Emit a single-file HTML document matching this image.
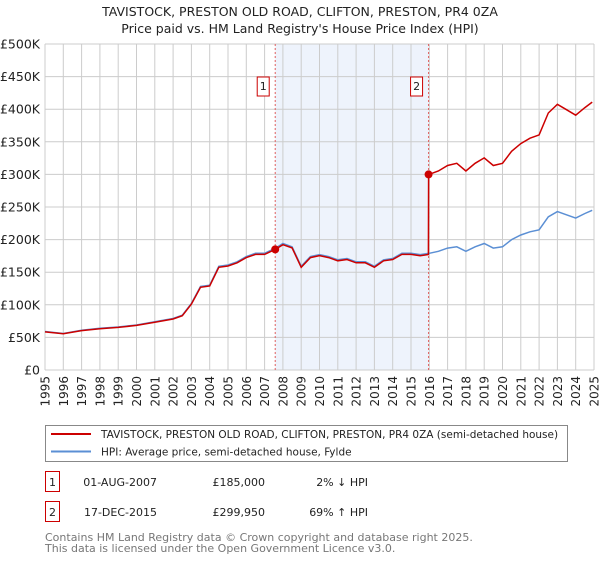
<!DOCTYPE html>
<html><head><meta charset="utf-8"><style>
body{margin:0;background:#fff;font-family:"Liberation Sans","DejaVu Sans",sans-serif;}
svg text{font-family:"DejaVu Sans","Liberation Sans",sans-serif;}
</style></head><body>
<svg id="c" width="600" height="560" xmlns="http://www.w3.org/2000/svg"></svg>
<script>
const hpiYears=[1995,1996,1997,1998,1999,2000,2001,2002,2002.5,2003,2003.5,2004,2004.5,2005,2005.5,2006,2006.5,2007,2007.6,2008,2008.5,2009,2009.5,2010,2010.5,2011,2011.5,2012,2012.5,2013,2013.5,2014,2014.5,2015,2015.5,2016,2016.5,2017,2017.5,2018,2018.5,2019,2019.5,2020,2020.5,2021,2021.5,2022,2022.5,2023,2023.5,2024,2024.5,2024.9];
const hpiValues=[59,56,61,64,66,69,74,79,84,102,128,130,159,161,166,174,179,179,187,194,189,159,174,177,174,169,171,166,166,159,169,171,179,179,177,179,182,187,189,182,189,194,187,189,200,207,212,215,235,243,238,233,240,245];
const saleYears=[2007.58,2015.96];
const salePrices=[185,299.95];
const saleLabels=["1","2"];
const yTicks=[0,50,100,150,200,250,300,350,400,450,500];
const yTickLabels=["£0","£50K","£100K","£150K","£200K","£250K","£300K","£350K","£400K","£450K","£500K"];
const xTicks=[1995,1996,1997,1998,1999,2000,2001,2002,2003,2004,2005,2006,2007,2008,2009,2010,2011,2012,2013,2014,2015,2016,2017,2018,2019,2020,2021,2022,2023,2024,2025];

const NS="http://www.w3.org/2000/svg";
const svg=document.getElementById('c');
const X0=45,X1=594,Y0=370,Y1=44;
const xs=y=>X0+(y-1995)/30*(X1-X0);
const ys=v=>Y0-v/500*(Y0-Y1);
function mk(tag,attrs,parent){const e=document.createElementNS(NS,tag);for(const k in attrs)e.setAttribute(k,attrs[k]);(parent||svg).appendChild(e);return e;}
function hpiAt(y){for(let i=0;i<hpiYears.length-1;i++){if(y<=hpiYears[i+1]){const t=(y-hpiYears[i])/(hpiYears[i+1]-hpiYears[i]);return hpiValues[i]+t*(hpiValues[i+1]-hpiValues[i]);}}return hpiValues[hpiValues.length-1];}

let t=mk('text',{x:300,y:16,'text-anchor':'middle','font-size':12.5,fill:'#222'});t.textContent="TAVISTOCK, PRESTON OLD ROAD, CLIFTON, PRESTON, PR4 0ZA";

t=mk('text',{x:300,y:33,'text-anchor':'middle','font-size':12.5,fill:'#222'});t.textContent="Price paid vs. HM Land Registry's House Price Index (HPI)";


let sh=mk('rect',{x:xs(saleYears[0]),y:Y1,width:xs(saleYears[1])-xs(saleYears[0]),height:Y0-Y1,fill:'#eef3fc'});


xTicks.forEach(yr=>{
 const g=mk('line',{x1:xs(yr),x2:xs(yr),y1:Y1,y2:Y0,stroke:'#cccccc','stroke-width':1});
 
 const l=mk('text',{transform:`translate(${xs(yr)+4.5},376) rotate(-90)`,'text-anchor':'end','font-size':12,fill:'#222'});
 l.textContent=yr;
 
});
yTicks.forEach((v,i)=>{
 const g=mk('line',{x1:X0,x2:X1,y1:ys(v),y2:ys(v),stroke:'#cccccc','stroke-width':1});
 
 const l=mk('text',{x:40,y:ys(v)+4.5,'text-anchor':'end','font-size':12.5,fill:'#222'});
 l.textContent=yTickLabels[i];
 
});

saleYears.forEach((sy,i)=>{
 const d=mk('line',{x1:xs(sy),x2:xs(sy),y1:Y1,y2:Y0,stroke:'#e06060','stroke-width':1,'stroke-dasharray':'2,2'});
 
 const b=mk('rect',{x:xs(sy)-18,y:77,width:12,height:19,fill:'#fff',stroke:'#cc0000','stroke-width':1});
 
 const l=mk('text',{x:xs(sy)-12,y:90,'text-anchor':'middle','font-size':11,fill:'#222'});l.textContent=saleLabels[i];
 
});

let hp=hpiYears.map((y,i)=>`${i?'L':'M'}${xs(y).toFixed(1)},${ys(hpiValues[i]).toFixed(1)}`).join('');
let hl=mk('path',{d:hp,fill:'none',stroke:'#5b8fd4','stroke-width':1.5});


let pts=[];
const f0=salePrices[0]/hpiAt(saleYears[0]), f1=salePrices[1]/hpiAt(saleYears[1]);
hpiYears.forEach((y,i)=>{ if(y<saleYears[1]) pts.push([y,hpiValues[i]*f0]); });
pts.push([saleYears[1]-0.01,hpiAt(saleYears[1])*f0]);
pts.push([saleYears[1],salePrices[1]]);
hpiYears.forEach((y,i)=>{ if(y>saleYears[1]) pts.push([y,hpiValues[i]*f1]); });
let rp=pts.map((p,i)=>`${i?'L':'M'}${xs(p[0]).toFixed(1)},${ys(p[1]).toFixed(1)}`).join('');
let rl=mk('path',{d:rp,fill:'none',stroke:'#cc0000','stroke-width':1.5});

saleYears.forEach((sy,i)=>{
 const c=mk('circle',{cx:xs(sy),cy:ys(salePrices[i]),r:4,fill:'#cc0000'});
 
});

let lg=mk('rect',{x:45.5,y:425.5,width:522,height:36,fill:'#fff',stroke:'#888','stroke-width':1});

let ll=mk('line',{x1:51,x2:91,y1:434,y2:434,stroke:'#cc0000','stroke-width':2});

ll=mk('line',{x1:51,x2:91,y1:451.5,y2:451.5,stroke:'#5b8fd4','stroke-width':2});

t=mk('text',{x:101,y:438,'font-size':10.5,fill:'#222'});t.textContent="TAVISTOCK, PRESTON OLD ROAD, CLIFTON, PRESTON, PR4 0ZA (semi-detached house)";

t=mk('text',{x:101,y:455.5,'font-size':10.5,fill:'#222'});t.textContent="HPI: Average price, semi-detached house, Fylde";


const rowsD=["01-AUG-2007","17-DEC-2015"],rowsP=["£185,000","£299,950"],rowsH=["2% ↓ HPI","69% ↑ HPI"];
[483,513].forEach((ry,i)=>{
 const b=mk('rect',{x:45.5,y:ry-11.5,width:14,height:20,fill:'#fff',stroke:'#cc0000'});
 
 let a=mk('text',{x:52.5,y:ry+3,'text-anchor':'middle','font-size':11,fill:'#222'});a.textContent=saleLabels[i];
 
 a=mk('text',{x:157,y:ry+3,'text-anchor':'end','font-size':11,fill:'#222'});a.textContent=rowsD[i];
 
 a=mk('text',{x:265,y:ry+3,'text-anchor':'end','font-size':11,fill:'#222'});a.textContent=rowsP[i];
 
 a=mk('text',{x:368,y:ry+3,'text-anchor':'end','font-size':11,fill:'#222'});a.textContent=rowsH[i];
 
});
t=mk('text',{x:45,y:541,'font-size':11,fill:'#777'});t.textContent="Contains HM Land Registry data © Crown copyright and database right 2025.";

t=mk('text',{x:45,y:552,'font-size':11,fill:'#777'});t.textContent="This data is licensed under the Open Government Licence v3.0.";

</script>
</body></html>
